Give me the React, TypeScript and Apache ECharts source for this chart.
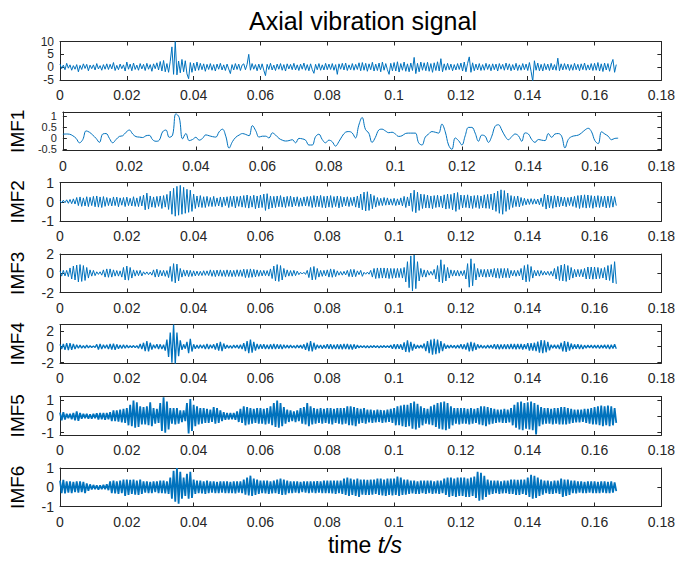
import React, { useEffect, useRef } from "react";
import * as echarts from "echarts";

// ---------- data ----------
const timeMax = 0.18;
const timeTickStep = 0.02;

// raw axial vibration signal, one value every 0.0005 s
const rawStep = 0.0005;
const rawSignal = [
  1.2,-0.6,0.8,-1.0,1.5,-0.4,0.9,-1.2,0.6,-0.8,
  1.0,-1.8,0.7,-0.9,1.3,-0.5,1.1,-1.4,0.8,-0.6,
  0.9,-1.1,1.4,-0.7,0.6,-1.2,1.0,-0.8,1.3,-0.9,
  1.1,-0.7,1.8,-1.3,0.7,-1.0,1.2,-0.6,0.9,-1.5,
  2.0,-0.8,1.2,-1.4,1.6,-0.9,0.8,-1.2,1.4,-0.7,
  1.1,-1.3,1.5,-0.8,1.0,-1.6,1.3,-0.6,1.7,-1.1,
  2.2,-1.5,2.6,-1.8,1.4,-2.0,2.3,7.9,-2.8,10.0,
  -3.0,2.4,-2.2,3.0,-1.8,2.5,-2.6,-4.5,1.8,-2.0,
  1.6,-1.4,2.0,-1.2,1.5,-1.0,1.3,-1.6,1.1,-0.9,
  1.4,-1.2,1.0,-1.5,1.2,-0.8,1.5,-1.1,0.9,-1.3,
  1.2,-0.7,-2.5,1.0,-1.1,1.4,-0.9,1.2,-1.3,0.8,
  1.3,-1.0,1.1,5.0,-1.2,1.4,-0.8,1.0,-1.4,1.2,
  -1.0,1.3,-1.2,-3.3,1.1,-0.9,1.5,-1.1,0.8,-1.3,
  1.2,-0.8,1.4,-1.2,1.0,-1.5,1.3,-0.7,1.1,-1.0,
  1.5,-1.1,0.9,-1.3,1.2,-0.8,1.6,-1.2,1.0,-1.4,
  1.3,-0.9,-2.4,1.1,-1.0,1.4,-1.2,0.9,-1.1,1.5,
  -1.0,1.2,-0.9,1.4,-1.2,1.0,-2.8,1.3,-0.8,1.5,
  -1.1,1.6,-1.3,0.9,-1.0,1.4,-1.2,1.1,-0.9,1.7,
  -1.4,1.8,-1.2,1.5,-1.6,1.3,-1.0,1.9,-1.5,1.2,
  -1.3,1.6,-1.8,2.0,-1.2,1.4,-1.0,-2.8,1.5,-1.4,
  1.8,-1.5,2.1,-1.9,1.4,-1.2,2.0,-1.6,1.3,-1.8,
  1.6,-1.3,3.8,-2.5,1.5,-1.8,2.0,-1.2,1.7,-1.4,
  1.9,-1.6,1.4,-2.0,1.7,-1.3,2.1,-1.5,3.3,-1.8,
  1.3,-1.2,1.5,-1.0,1.2,-1.4,1.0,-1.1,1.4,-0.9,
  1.6,-1.5,2.0,-1.8,1.5,4.0,-2.0,1.7,-1.4,1.2,
  -1.1,1.4,-1.3,1.0,-1.2,1.5,-0.9,1.1,-1.4,1.3,
  -1.0,1.2,-1.5,1.4,-0.8,1.1,-1.2,1.6,-1.0,1.3,
  -1.4,1.0,-1.1,1.5,-1.3,0.9,-1.2,1.4,-1.0,1.2,
  -1.3,1.8,-1.6,-5.5,2.5,-1.2,1.6,-1.4,1.1,-1.5,
  1.4,-1.0,1.2,-1.3,1.5,-1.1,1.0,-1.2,3.5,-1.4,
  1.3,-1.1,1.4,-0.9,1.2,-1.3,1.0,-1.2,1.5,-1.0,
  1.1,-1.4,1.3,-1.0,1.6,-1.2,0.9,-1.1,1.4,-1.3,
  1.5,-1.2,1.8,-1.5,1.3,-1.7,1.6,-1.1,1.4,-1.6,
  1.2,3.0,-2.0,1.0,
];

// IMF1, one value every 0.001 s
const imf1Step = 0.001;
const imf1 = [
  0.19,0.2,0.19,0.12,0.0,-0.2,-0.05,0.34,0.28,0.15,
  0.0,-0.18,0.2,0.22,0.0,-0.2,-0.05,0.09,0.12,0.28,
  0.38,0.2,0.08,0.06,0.04,0.12,0.14,-0.06,-0.13,-0.08,
  0.3,0.38,0.05,0.15,1.12,0.95,-0.02,0.22,-0.1,-0.05,
  0.05,-0.08,0.0,0.16,0.12,0.08,0.06,0.3,0.42,0.1,
  -0.44,-0.15,0.05,0.15,0.22,0.18,0.12,0.58,0.35,0.06,
  0.1,0.1,0.02,0.25,0.15,0.0,-0.08,-0.12,-0.1,-0.06,
  -0.2,0.0,-0.02,-0.08,-0.3,-0.3,0.08,0.19,-0.05,-0.2,
  -0.08,-0.15,-0.35,-0.15,0.1,0.28,0.31,0.25,0.02,0.6,
  0.95,0.41,0.24,-0.18,0.05,0.38,0.42,0.34,0.26,0.28,
  0.2,0.09,0.12,0.22,0.24,0.24,0.24,-0.2,-0.3,0.06,
  0.2,0.31,0.28,0.24,0.65,0.3,-0.3,-0.5,0.02,-0.1,
  -0.3,0.12,0.5,0.5,0.24,-0.13,0.15,0.1,-0.18,0.1,
  0.55,0.62,0.38,0.1,-0.06,0.08,0.2,0.12,-0.13,0.25,
  0.2,-0.05,-0.18,-0.05,-0.08,-0.1,0.22,0.05,0.2,0.22,
  0.1,-0.43,-0.05,0.08,0.12,0.15,0.25,0.38,0.46,0.3,
  -0.1,-0.24,0.3,0.2,0.1,-0.06,0.0,0.01,
];

// IMF2 .. IMF6, successive extrema every 0.0005 s
const imfStep = 0.0005;
const imf2 = [
  0.05,-0.06,0.08,-0.05,0.1,-0.08,0.12,-0.1,0.15,-0.12,
  0.22,-0.2,0.25,-0.24,0.2,-0.22,0.26,-0.25,0.23,-0.2,
  0.28,-0.26,0.3,-0.28,0.25,-0.3,0.27,-0.24,0.22,-0.2,
  0.18,-0.22,0.25,-0.2,0.24,-0.26,0.2,-0.18,0.22,-0.25,
  0.24,-0.2,0.18,-0.22,0.26,-0.24,0.2,-0.25,0.28,-0.22,
  0.35,-0.42,0.45,-0.38,0.3,-0.28,0.25,-0.3,0.28,-0.24,
  0.3,-0.35,0.32,-0.28,0.38,-0.4,0.55,-0.65,0.7,-0.75,
  0.8,-0.7,0.85,-0.65,0.75,-0.6,0.65,-0.55,0.6,-0.5,
  0.4,-0.35,0.3,-0.28,0.32,-0.3,0.26,-0.3,0.28,-0.24,
  0.22,-0.25,0.28,-0.24,0.2,-0.22,0.25,-0.28,0.24,-0.2,
  0.26,-0.3,0.28,-0.25,0.3,-0.32,0.27,-0.24,0.3,-0.28,
  0.32,-0.3,0.35,-0.33,0.3,-0.28,0.34,-0.36,0.3,-0.32,
  0.35,-0.3,0.4,-0.45,0.42,-0.38,0.3,-0.32,0.28,-0.3,
  0.3,-0.26,0.32,-0.28,0.25,-0.3,0.28,-0.24,0.3,-0.27,
  0.24,-0.22,0.26,-0.25,0.2,-0.23,0.25,-0.22,0.27,-0.24,
  0.28,-0.3,0.32,-0.28,0.3,-0.26,0.33,-0.3,0.28,-0.32,
  0.3,-0.28,0.32,-0.3,0.27,-0.25,0.3,-0.32,0.28,-0.26,
  0.24,-0.22,0.26,-0.25,0.22,-0.2,0.25,-0.28,0.3,-0.32,
  0.4,-0.42,0.5,-0.48,0.52,-0.45,0.4,-0.36,0.32,-0.28,
  0.22,-0.2,0.18,-0.2,0.22,-0.18,0.2,-0.17,0.15,-0.18,
  0.18,-0.2,0.15,-0.17,0.2,-0.22,0.28,-0.3,0.25,-0.22,
  0.45,-0.5,0.6,-0.57,0.5,-0.45,0.4,-0.35,0.38,-0.32,
  0.35,-0.33,0.3,-0.36,0.32,-0.3,0.34,-0.28,0.3,-0.32,
  0.36,-0.38,0.4,-0.35,0.38,-0.42,0.45,-0.5,0.48,-0.4,
  0.35,-0.32,0.34,-0.3,0.36,-0.33,0.3,-0.35,0.32,-0.3,
  0.33,-0.35,0.3,-0.32,0.36,-0.34,0.38,-0.35,0.4,-0.42,
  0.45,-0.5,0.55,-0.6,0.62,-0.65,0.58,-0.5,0.45,-0.4,
  0.32,-0.3,0.28,-0.25,0.3,-0.27,0.22,-0.2,0.18,-0.16,
  0.15,-0.14,0.16,-0.13,0.15,-0.12,0.14,-0.16,0.2,-0.25,
  0.4,-0.38,0.35,-0.32,0.3,-0.34,0.32,-0.28,0.3,-0.26,
  0.25,-0.22,0.24,-0.26,0.22,-0.2,0.25,-0.24,0.28,-0.3,
  0.32,-0.35,0.34,-0.3,0.36,-0.33,0.35,-0.3,0.32,-0.34,
  0.3,-0.28,0.32,-0.3,0.28,-0.26,0.3,-0.32,0.29,-0.3,
  0.3,-0.28,0.26,-0.2,
];
const imf3 = [
  0.25,-0.3,0.3,-0.28,0.3,-0.35,0.55,-0.6,0.75,-0.7,
  0.85,-0.9,0.9,-0.85,0.8,-0.75,0.6,-0.5,0.35,-0.3,
  0.3,-0.25,0.15,-0.12,0.15,-0.2,0.35,-0.4,0.45,-0.42,
  0.45,-0.4,0.35,-0.3,0.28,-0.3,0.25,-0.4,0.6,-0.7,
  0.75,-0.72,0.6,-0.5,0.35,-0.3,0.28,-0.25,0.3,-0.28,
  0.15,-0.12,0.14,-0.15,0.12,-0.2,0.35,-0.4,0.42,-0.38,
  0.3,-0.28,0.3,-0.32,0.28,-0.45,0.7,-0.85,1.0,-1.0,
  0.95,-0.8,0.5,-0.4,0.35,-0.3,0.32,-0.35,0.3,-0.33,
  0.25,-0.28,0.22,-0.25,0.2,-0.24,0.26,-0.22,0.25,-0.24,
  0.35,-0.32,0.3,-0.35,0.33,-0.3,0.35,-0.32,0.3,-0.34,
  0.35,-0.33,0.32,-0.35,0.3,-0.34,0.36,-0.32,0.35,-0.33,
  0.42,-0.45,0.4,-0.44,0.45,-0.42,0.4,-0.38,0.35,-0.32,
  0.3,-0.28,0.3,-0.25,0.28,-0.3,0.45,-0.55,0.75,-0.8,
  0.9,-0.85,0.8,-0.7,0.5,-0.4,0.35,-0.3,0.28,-0.3,
  0.3,-0.25,0.22,-0.15,0.1,-0.08,0.1,-0.12,0.3,-0.45,
  0.6,-0.7,0.7,-0.65,0.5,-0.4,0.3,-0.32,0.3,-0.28,
  0.35,-0.4,0.45,-0.42,0.4,-0.35,0.25,-0.2,0.18,-0.2,
  0.2,-0.18,0.3,-0.35,0.4,-0.38,0.4,-0.35,0.25,-0.15,
  0.3,-0.32,0.1,-0.1,0.12,-0.1,0.3,-0.4,0.5,-0.55,
  0.55,-0.52,0.55,-0.5,0.55,-0.5,0.52,-0.55,0.5,-0.52,
  0.5,-0.48,0.5,-0.45,0.5,-0.5,0.6,-0.9,1.2,-1.5,
  1.8,-1.85,1.9,-1.6,1.2,-0.8,0.5,-0.4,0.35,-0.4,
  0.3,-0.2,0.2,-0.2,0.4,-0.6,0.8,-0.9,1.4,-1.0,
  0.9,-0.8,0.6,-0.5,0.35,-0.3,0.3,-0.28,0.3,-0.3,
  0.25,-0.25,0.3,-0.6,1.0,-1.45,1.5,-1.3,1.0,-0.7,
  0.5,-0.4,0.4,-0.38,0.4,-0.42,0.4,-0.38,0.42,-0.4,
  0.5,-0.48,0.5,-0.52,0.5,-0.48,0.5,-0.45,0.5,-0.48,
  0.3,-0.28,0.3,-0.32,0.3,-0.28,0.5,-0.7,0.8,-0.9,
  0.9,-0.85,0.7,-0.5,0.3,-0.28,0.3,-0.3,0.28,-0.2,
  0.2,-0.18,0.2,-0.22,0.2,-0.3,0.5,-0.6,0.7,-0.75,
  0.85,-0.8,0.95,-0.85,0.8,-0.7,0.6,-0.5,0.4,-0.38,
  0.4,-0.35,0.4,-0.38,0.5,-0.6,0.65,-0.6,0.65,-0.62,
  0.65,-0.6,0.6,-0.55,0.5,-0.5,0.6,-0.7,0.8,-0.75,
  0.9,-1.0,1.2,-1.1,
];
const imf4 = [
  0.3,-0.3,0.35,-0.4,0.45,-0.42,0.45,-0.4,0.35,-0.3,
  0.25,-0.2,0.2,-0.18,0.15,-0.18,0.2,-0.15,0.12,-0.1,
  0.08,-0.1,0.3,-0.35,0.35,-0.3,0.25,-0.2,0.25,-0.3,
  0.35,-0.35,0.4,-0.38,0.3,-0.25,0.2,-0.22,0.25,-0.2,
  0.2,-0.15,0.12,-0.1,0.15,-0.12,0.15,-0.2,0.35,-0.3,
  0.5,-0.55,0.7,-0.6,0.5,-0.35,0.25,-0.2,0.3,-0.28,
  0.3,-0.3,0.25,-0.5,0.9,-1.3,1.8,-2.0,2.8,-2.2,
  1.8,-1.2,0.8,-0.4,0.3,-0.25,0.6,-0.8,1.0,-0.6,
  0.3,-0.25,0.2,-0.22,0.25,-0.2,0.25,-0.3,0.35,-0.3,
  0.25,-0.2,0.3,-0.35,0.45,-0.5,0.6,-0.55,0.4,-0.25,
  0.2,-0.18,0.15,-0.2,0.2,-0.15,0.2,-0.22,0.25,-0.3,
  0.45,-0.55,0.7,-0.8,0.9,-0.75,0.6,-0.5,0.35,-0.3,
  0.3,-0.25,0.3,-0.28,0.25,-0.3,0.3,-0.28,0.35,-0.3,
  0.3,-0.25,0.28,-0.3,0.25,-0.2,0.2,-0.18,0.2,-0.15,
  0.15,-0.18,0.2,-0.15,0.2,-0.22,0.3,-0.4,0.5,-0.55,
  0.7,-0.6,0.5,-0.35,0.25,-0.2,0.22,-0.25,0.2,-0.22,
  0.3,-0.25,0.3,-0.28,0.25,-0.3,0.3,-0.28,0.3,-0.32,
  0.35,-0.3,0.35,-0.32,0.3,-0.35,0.3,-0.25,0.2,-0.15,
  0.15,-0.12,0.15,-0.15,0.12,-0.15,0.12,-0.1,0.15,-0.12,
  0.15,-0.15,0.12,-0.1,0.15,-0.12,0.15,-0.12,0.2,-0.25,
  0.3,-0.28,0.3,-0.25,0.3,-0.4,0.55,-0.65,0.8,-0.7,
  0.6,-0.5,0.35,-0.25,0.2,-0.18,0.2,-0.2,0.4,-0.55,
  0.7,-0.8,0.9,-1.0,1.0,-0.95,0.9,-0.8,0.7,-0.55,
  0.4,-0.25,0.2,-0.18,0.2,-0.15,0.18,-0.2,0.2,-0.18,
  0.3,-0.28,0.3,-0.35,0.5,-0.6,0.6,-0.55,0.5,-0.4,
  0.3,-0.2,0.2,-0.18,0.15,-0.2,0.2,-0.18,0.2,-0.22,
  0.3,-0.28,0.3,-0.32,0.28,-0.3,0.3,-0.28,0.3,-0.3,
  0.35,-0.3,0.35,-0.32,0.35,-0.3,0.35,-0.35,0.32,-0.3,
  0.45,-0.5,0.45,-0.5,0.5,-0.55,0.65,-0.75,0.85,-0.8,
  0.8,-0.7,0.6,-0.45,0.25,-0.2,0.25,-0.22,0.25,-0.3,
  0.5,-0.6,0.7,-0.65,0.6,-0.5,0.4,-0.3,0.3,-0.25,
  0.3,-0.28,0.25,-0.3,0.2,-0.18,0.2,-0.15,0.2,-0.2,
  0.2,-0.18,0.2,-0.22,0.2,-0.18,0.25,-0.22,0.25,-0.28,
  0.25,-0.22,0.3,-0.25,
];
const imf5 = [
  0.22,-0.25,0.25,-0.2,0.15,-0.12,0.15,-0.18,0.2,-0.25,
  0.3,-0.28,0.2,-0.15,0.15,-0.12,0.15,-0.15,0.12,-0.15,
  0.15,-0.12,0.18,-0.2,0.2,-0.18,0.2,-0.22,0.2,-0.18,
  0.25,-0.3,0.35,-0.3,0.35,-0.32,0.4,-0.38,0.45,-0.4,
  0.5,-0.55,0.7,-0.6,0.95,-0.7,0.85,-0.65,0.6,-0.5,
  0.55,-0.5,0.6,-0.55,0.85,-0.6,0.5,-0.45,0.45,-0.4,
  0.8,-0.9,1.15,-1.0,0.9,-0.8,0.5,-0.45,0.5,-0.5,
  0.5,-0.45,0.35,-0.35,0.35,-0.3,0.8,-1.05,1.05,-0.9,
  0.7,-0.6,0.6,-0.5,0.5,-0.45,0.5,-0.4,0.45,-0.4,
  0.4,-0.35,0.55,-0.45,0.5,-0.4,0.35,-0.3,0.25,-0.22,
  0.2,-0.2,0.2,-0.18,0.2,-0.22,0.3,-0.35,0.45,-0.4,
  0.6,-0.55,0.55,-0.5,0.5,-0.45,0.45,-0.4,0.5,-0.45,
  0.5,-0.45,0.45,-0.5,0.5,-0.45,0.6,-0.55,0.8,-0.65,
  0.95,-0.7,0.8,-0.6,0.55,-0.45,0.4,-0.35,0.35,-0.3,
  0.3,-0.35,0.35,-0.3,0.5,-0.45,0.55,-0.5,0.8,-0.6,
  0.6,-0.5,0.5,-0.45,0.45,-0.4,0.5,-0.45,0.45,-0.4,
  0.5,-0.45,0.5,-0.5,0.45,-0.4,0.5,-0.45,0.5,-0.5,
  0.5,-0.45,0.6,-0.55,0.6,-0.55,0.55,-0.6,0.5,-0.45,
  0.45,-0.4,0.5,-0.45,0.4,-0.38,0.4,-0.4,0.35,-0.38,
  0.4,-0.35,0.38,-0.4,0.35,-0.38,0.4,-0.35,0.45,-0.4,
  0.5,-0.55,0.6,-0.55,0.65,-0.6,0.7,-0.65,0.7,-0.6,
  0.8,-0.75,0.9,-0.8,0.75,-0.7,0.6,-0.55,0.5,-0.45,
  0.45,-0.5,0.6,-0.55,0.7,-0.65,0.8,-0.75,0.85,-0.8,
  0.9,-0.85,0.8,-0.75,0.6,-0.55,0.5,-0.45,0.5,-0.5,
  0.5,-0.45,0.5,-0.45,0.45,-0.5,0.5,-0.45,0.45,-0.4,
  0.5,-0.5,0.6,-0.55,0.6,-0.6,0.55,-0.5,0.5,-0.45,
  0.45,-0.4,0.4,-0.38,0.4,-0.4,0.45,-0.4,0.4,-0.38,
  0.5,-0.55,0.7,-0.7,0.85,-0.8,0.9,-0.85,0.8,-0.75,
  0.85,-0.8,0.9,-0.85,0.8,-1.1,0.7,-0.6,0.55,-0.5,
  0.5,-0.45,0.5,-0.45,0.45,-0.5,0.5,-0.45,0.5,-0.5,
  0.55,-0.5,0.55,-0.5,0.5,-0.45,0.45,-0.4,0.4,-0.38,
  0.4,-0.38,0.4,-0.35,0.45,-0.4,0.45,-0.45,0.5,-0.5,
  0.55,-0.5,0.6,-0.55,0.65,-0.6,0.6,-0.55,0.65,-0.6,
  0.6,-0.55,0.5,-0.4,
];
const imf6 = [
  0.35,-0.3,0.38,-0.32,0.3,-0.28,0.3,-0.3,0.28,-0.25,
  0.3,-0.28,0.3,-0.25,0.28,-0.3,0.2,-0.18,0.15,-0.12,
  0.12,-0.1,0.1,-0.12,0.1,-0.1,0.12,-0.1,0.15,-0.15,
  0.3,-0.3,0.35,-0.32,0.3,-0.35,0.35,-0.3,0.4,-0.45,
  0.4,-0.4,0.38,-0.35,0.4,-0.38,0.35,-0.4,0.4,-0.35,
  0.3,-0.28,0.3,-0.3,0.28,-0.3,0.3,-0.25,0.3,-0.3,
  0.35,-0.3,0.35,-0.32,0.3,-0.35,0.5,-0.6,0.85,-0.75,
  1.0,-0.85,0.8,-0.6,0.5,-0.45,0.7,-0.6,0.8,-0.55,
  0.4,-0.35,0.35,-0.3,0.35,-0.32,0.3,-0.35,0.35,-0.3,
  0.3,-0.28,0.3,-0.3,0.28,-0.3,0.3,-0.28,0.3,-0.3,
  0.3,-0.3,0.28,-0.3,0.3,-0.32,0.3,-0.28,0.3,-0.3,
  0.4,-0.38,0.5,-0.42,0.6,-0.45,0.45,-0.4,0.4,-0.35,
  0.35,-0.3,0.35,-0.32,0.35,-0.35,0.3,-0.32,0.35,-0.3,
  0.4,-0.35,0.45,-0.4,0.4,-0.38,0.35,-0.3,0.3,-0.3,
  0.3,-0.28,0.3,-0.3,0.28,-0.25,0.3,-0.28,0.3,-0.3,
  0.3,-0.28,0.3,-0.3,0.32,-0.28,0.3,-0.3,0.35,-0.3,
  0.35,-0.3,0.35,-0.32,0.35,-0.35,0.35,-0.3,0.35,-0.35,
  0.45,-0.4,0.5,-0.45,0.45,-0.4,0.4,-0.45,0.45,-0.5,
  0.4,-0.38,0.4,-0.4,0.38,-0.4,0.4,-0.38,0.4,-0.35,
  0.45,-0.4,0.45,-0.42,0.4,-0.45,0.45,-0.4,0.45,-0.42,
  0.45,-0.4,0.55,-0.45,0.5,-0.4,0.4,-0.38,0.4,-0.35,
  0.35,-0.32,0.35,-0.35,0.3,-0.35,0.35,-0.3,0.35,-0.35,
  0.35,-0.3,0.35,-0.35,0.3,-0.32,0.35,-0.35,0.35,-0.3,
  0.45,-0.4,0.5,-0.5,0.5,-0.45,0.45,-0.5,0.5,-0.45,
  0.5,-0.45,0.5,-0.5,0.45,-0.5,0.5,-0.45,0.55,-0.55,
  0.8,-0.7,0.75,-0.65,0.6,-0.5,0.4,-0.38,0.35,-0.35,
  0.35,-0.3,0.35,-0.35,0.3,-0.32,0.35,-0.3,0.35,-0.35,
  0.4,-0.35,0.4,-0.4,0.38,-0.4,0.4,-0.35,0.4,-0.4,
  0.5,-0.5,0.65,-0.6,0.6,-0.55,0.5,-0.45,0.4,-0.38,
  0.35,-0.3,0.35,-0.35,0.3,-0.35,0.35,-0.3,0.35,-0.35,
  0.45,-0.5,0.4,-0.45,0.4,-0.4,0.35,-0.3,0.35,-0.32,
  0.3,-0.28,0.3,-0.3,0.28,-0.3,0.3,-0.28,0.3,-0.3,
  0.3,-0.3,0.28,-0.3,0.3,-0.28,0.3,-0.3,0.28,-0.3,
  0.3,-0.28,0.25,-0.2,
];

const panelNames = ["", "IMF1", "IMF2", "IMF3", "IMF4", "IMF5", "IMF6"];
const panelValues = [rawSignal, imf1, imf2, imf3, imf4, imf5, imf6];
const panelSteps = [rawStep, imf1Step, imfStep, imfStep, imfStep, imfStep, imfStep];
const yMins = [-5, -0.55, -1, -2, -2.05, -1.14, -1];
const yMaxs = [10, 1.2, 1, 2, 2.8, 1.2, 1];
const yTickValues = [
  [-5, 0, 5, 10],
  [-0.5, 0, 0.5, 1],
  [-1, 0, 1],
  [-2, 0, 2],
  [-2, 0, 2],
  [-1, 0, 1],
  [-1, 0, 1],
];

const titleText = "Axial vibration signal";

// ---------- layout ----------
const gridTops = [41.5, 112, 182.5, 254, 324.5, 396.5, 468];
const gridLeft = 60;
const gridWidth = 607;
const gridHeight = 38.5;
const lineWidths = [1, 1, 1, 1, 1.3, 1.8, 1.8];
const yLabelSizes = [12, 11, 14, 14, 14, 14, 14];

const INK = "#262626";
const LINE = "#0072BD";
const FONT = '"Liberation Sans", Arial, Helvetica, sans-serif';

function buildOption() {
  const grid: any[] = [];
  const xAxis: any[] = [];
  const yAxis: any[] = [];
  const series: any[] = [];

  panelValues.forEach((vals, k) => {
    grid.push({ left: gridLeft, top: gridTops[k], width: gridWidth, height: gridHeight, containLabel: false });
    const xBase = {
      type: "value",
      gridIndex: k,
      min: 0,
      max: timeMax,
      interval: timeTickStep,
      splitLine: { show: false },
      axisLine: { show: true, onZero: false, lineStyle: { color: INK, width: 1 } },
      axisTick: { show: true, inside: true, length: 4, lineStyle: { color: INK } },
    };
    xAxis.push({
      ...xBase,
      position: "bottom",
      axisLabel: {
        show: true, color: INK, fontSize: 14, fontFamily: FONT, margin: 8,
        showMinLabel: true, showMaxLabel: true,
      },
    });
    xAxis.push({ ...xBase, position: "top", axisLabel: { show: false } });

    const ticks = yTickValues[k];
    // labels are split over two coincident left axes so that neighbouring
    // labels (closer together than the font height) are never auto-hidden
    const evenLabels = ticks.filter((_, i) => i % 2 === 0);
    const oddLabels = ticks.filter((_, i) => i % 2 === 1);
    const labelStyle = {
      show: true, color: INK, fontSize: yLabelSizes[k], lineHeight: 10, fontFamily: FONT, margin: 6,
      showMinLabel: true, showMaxLabel: true, hideOverlap: false,
    };
    const yBase = {
      type: "value",
      gridIndex: k,
      min: yMins[k],
      max: yMaxs[k],
      splitLine: { show: false },
    };
    // 3k: left axis with line, ticks, name and even labels
    yAxis.push({
      ...yBase,
      position: "left",
      axisLine: { show: true, onZero: false, lineStyle: { color: INK, width: 1 } },
      axisTick: { show: true, inside: true, length: 4, lineStyle: { color: INK }, customValues: ticks },
      name: panelNames[k],
      nameLocation: "middle",
      nameRotate: 90,
      nameGap: 33,
      nameTextStyle: { fontSize: 19, fontFamily: FONT, color: "#000" },
      axisLabel: { ...labelStyle, customValues: evenLabels },
    });
    // 3k+1: right mirror axis with ticks only
    yAxis.push({
      ...yBase,
      position: "right",
      axisLine: { show: true, onZero: false, lineStyle: { color: INK, width: 1 } },
      axisTick: { show: true, inside: true, length: 4, lineStyle: { color: INK }, customValues: ticks },
      axisLabel: { show: false },
    });
    // 3k+2: left axis carrying the odd labels only
    yAxis.push({
      ...yBase,
      position: "left",
      offset: 0,
      axisLine: { show: false },
      axisTick: { show: false },
      axisLabel: { ...labelStyle, customValues: oddLabels },
    });

    const step = panelSteps[k];
    series.push({
      type: "line",
      xAxisIndex: 2 * k,
      yAxisIndex: 3 * k,
      data: vals.map((v, i) => [i * step, v]),
      showSymbol: false,
      symbol: "none",
      smooth: k === 1 ? 0.4 : false,
      clip: true,
      lineStyle: { color: LINE, width: lineWidths[k] },
      itemStyle: { color: LINE },
      silent: true,
    });
  });

  return {
    animation: false,
    backgroundColor: "#fff",
    grid,
    xAxis,
    yAxis,
    series,
    graphic: [
      {
        type: "text",
        x: 363,
        y: 21,
        style: {
          text: titleText,
          textAlign: "center",
          textVerticalAlign: "middle",
          fontSize: 25,
          fontFamily: FONT,
          fill: "#000",
        },
      },
      {
        type: "text",
        x: 365,
        y: 545,
        style: {
          text: "{n|time }{i|t/s}",
          textAlign: "center",
          textVerticalAlign: "middle",
          fontSize: 23,
          fontFamily: FONT,
          fill: "#000",
          rich: {
            n: { fontSize: 23, fontFamily: FONT, fill: "#000" },
            i: { fontSize: 23, fontFamily: FONT, fontStyle: "italic", fill: "#000" },
          },
        },
      },
    ],
  };
}

export default function App() {
  const ref = useRef<HTMLDivElement>(null);
  useEffect(() => {
    if (!ref.current) return;
    const chart = echarts.init(ref.current, undefined, { renderer: "svg" });
    chart.setOption(buildOption() as any);
    return () => chart.dispose();
  }, []);
  return (
    <div
      ref={ref}
      style={{ position: "fixed", left: 0, top: 0, width: 678, height: 561, background: "#fff" }}
    />
  );
}
